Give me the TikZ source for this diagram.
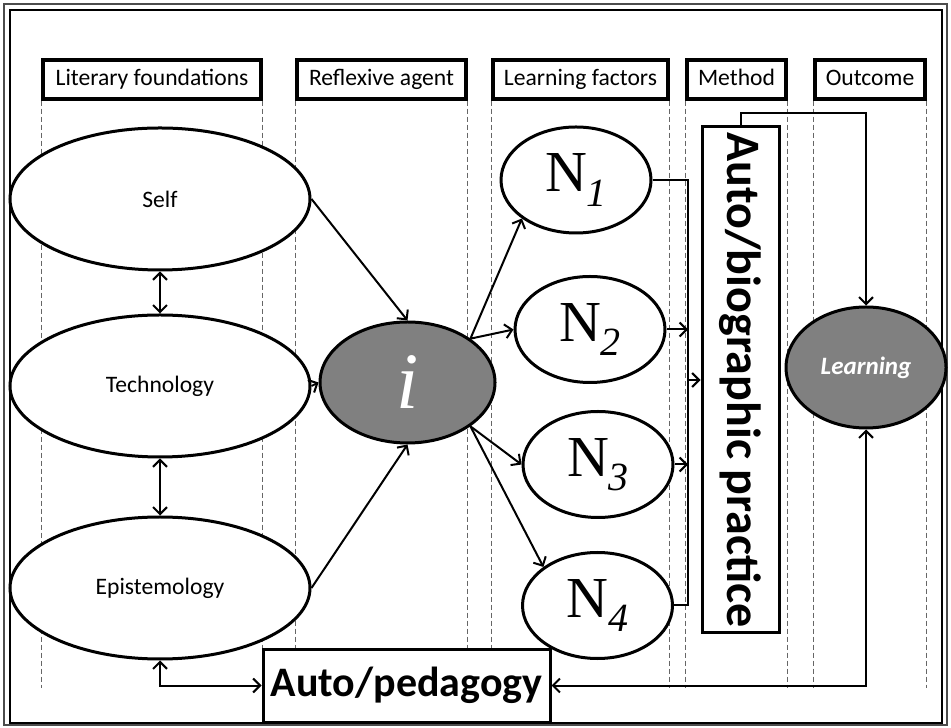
\documentclass[tikz,border=0pt]{standalone}
\usepackage{fontspec}
\setmainfont{Carlito}
\newfontfamily\timesfont{Liberation Serif}
\usepackage{tikz}
\usetikzlibrary{shapes,arrows,positioning,calc,arrows.meta}

\definecolor{hubgray}{RGB}{128,128,128}

\newcommand{\nlabel}[1]{N\raisebox{-0.25em}{\fontsize{20}{20}\selectfont\itshape #1}}

\tikzset{
  header/.style={draw, line width=1.6pt, minimum height=19.5pt, inner sep=0pt,
    text height=8.5pt, text depth=2.6pt, font=\fontsize{11.8}{12}\selectfont},
  guide/.style={gray!80!black, line width=0.5pt, dash pattern=on 2.5pt off 1.5pt},
  topic/.style={ellipse, draw, fill=white, line width=1.5pt, inner sep=0pt,
    minimum width=150pt, minimum height=71pt, font=\fontsize{11.8}{12}\selectfont},
  factor/.style={ellipse, draw, fill=white, line width=1.5pt, inner sep=0pt,
    minimum width=75pt, minimum height=53pt, font=\timesfont\fontsize{29}{29}\selectfont},
  hub/.style={ellipse, draw, fill=hubgray, line width=1.5pt, inner sep=0pt, text=white},
  bigbox/.style={draw, line width=1.5pt, inner sep=0pt, fill=white},
  link/.style={line width=1pt},
  >={Straight Barb[length=3.5pt,width=7pt]}
}

\begin{document}
\begin{tikzpicture}[x=50pt,y=50pt]
    \useasboundingbox (0,0) rectangle (9.51,7.27);
    % frame
    \draw[line width=1.2pt, gray!60!black] (0.04,0.02) rectangle (9.47,7.23);
    \draw[line width=1.2pt] (0.10,0.04) rectangle (9.42,7.17);

    % column headers
    \node[header, minimum width=109pt] (lit) at (1.52,6.475) {Literary foundations};
    \node[header, minimum width=84.5pt] (agent) at (3.815,6.475) {Reflexive agent};
    \node[header, minimum width=87.5pt] (factors) at (5.805,6.475) {Learning factors};
    \node[header, minimum width=49.5pt] (method) at (7.365,6.475) {Method};
    \node[header, minimum width=55pt] (outcome) at (8.70,6.475) {Outcome};

    % column guides
    \foreach \h in {lit,agent,factors,method,outcome} {
        \draw[guide] (\h.south west) -- (\h.south west |- 0,0.39);
        \draw[guide] (\h.south east) -- (\h.south east |- 0,0.39);
    }

    % literary foundations
    \node[topic] (self) at (1.60,5.28) {Self};
    \node[topic] (tech) at (1.60,3.41) {Technology};
    \node[topic] (epis) at (1.60,1.39) {Epistemology};

    % reflexive agent
    \node[hub, minimum width=87.5pt, minimum height=60.5pt,
          font=\timesfont\itshape\fontsize{40}{40}\selectfont] (i) at (4.075,3.445) {i};

    % learning factors
    \node[factor] (n1) at (5.76,5.47) {\nlabel{1}};
    \node[factor] (n2) at (5.90,3.975) {\nlabel{2}};
    \node[factor] (n3) at (5.98,2.625) {\nlabel{3}};
    \node[factor] (n4) at (5.975,1.215) {\nlabel{4}};

    % method and outcome
    \node[bigbox, minimum width=38.5pt, minimum height=253pt] (practice) at (7.405,3.47) {};
    \node[rotate=-90, font=\bfseries\fontsize{24}{24}\selectfont] (practice text) at (practice) {Auto/biographic practice};
    \node[hub, minimum width=80pt, minimum height=60.5pt,
          font=\bfseries\itshape\fontsize{12.5}{13}\selectfont] (learn) at (8.66,3.595) {Learning};
    \node[bigbox, minimum width=143.5pt, minimum height=36.5pt,
          font=\bfseries\fontsize{21}{21}\selectfont] (ped) at (4.065,0.415) {Auto/pedagogy};

    % connectors
    \draw[link,<->] (self.south) -- (tech.north);
    \draw[link,<->] (tech.south) -- (epis.north);
    \draw[link,->] (self.east) -- (i.north);
    \draw[link,->] (tech.east) -- (i.west);
    \draw[link,->] (epis.east) -- (i.south);

    \draw[link,->] (i.north east) -- (n1.south west);
    \draw[link,->] (i.north east) -- (n2.west);
    \draw[link,->] (i.south east) -- (n3.west);
    \draw[link,->] (i.south east) -- (n4.north west);

    \coordinate (bar) at (6.88,3.47);
    \draw[link] (n1.east) -| (bar) |- (n4.east);
    \draw[link,->] (n2.east) -- (n2.east -| bar);
    \draw[link,->] (n3.east) -- (n3.east -| bar);
    \draw[link,->] (bar) -- (practice.west);

    \draw[link,->] (practice.north) -- ++(0,0.12) -| (learn.north);
    \draw[link,<->] (learn.south) |- (ped.east);
    \draw[link,<->] (epis.south) |- (ped.west);
\end{tikzpicture}
\end{document}
